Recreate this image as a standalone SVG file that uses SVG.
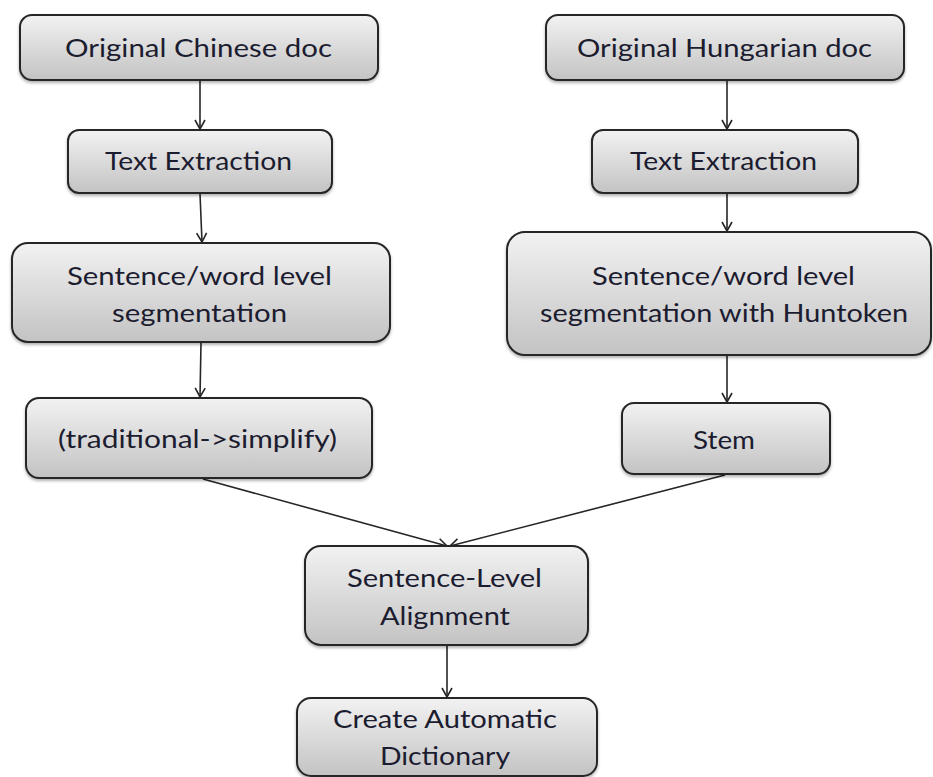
<svg xmlns="http://www.w3.org/2000/svg" width="933" height="777" viewBox="0 0 933 777">
  <style>
    .box { fill: url(#g); stroke: #262626; stroke-width: 2; filter: url(#sh); }
    .t { font-family: Lato, "Liberation Sans", sans-serif; font-size: 25.5px; fill: #1c1c30; text-anchor: middle; }
    .c { stroke: #262626; stroke-width: 1.6; fill: none; marker-end: url(#ah); }
  </style>
  <defs>
    <linearGradient id="g" x1="0" y1="0" x2="0" y2="1">
      <stop offset="0" stop-color="#f2f2f2"/>
      <stop offset="1" stop-color="#c3c3c3"/>
    </linearGradient>
    <filter id="sh" x="-5%" y="-10%" width="110%" height="130%">
      <feDropShadow dx="0" dy="2" stdDeviation="1.5" flood-color="#000" flood-opacity="0.3"/>
    </filter>
    <marker id="ah" viewBox="0 0 12 12" refX="11" refY="6" markerWidth="12" markerHeight="12" markerUnits="userSpaceOnUse" orient="auto">
      <polyline points="2,1 11,6 2,11" fill="none" stroke="#262626" stroke-width="1.6"/>
    </marker>
  </defs>
  <rect width="933" height="777" fill="#ffffff"/>

  <g id="connectors">
    <line class="c" x1="200" y1="81" x2="200" y2="129"/>
    <line class="c" x1="200" y1="194" x2="202" y2="242"/>
    <line class="c" x1="201" y1="343" x2="200" y2="397"/>
    <line class="c" x1="727" y1="81" x2="727" y2="129"/>
    <line class="c" x1="727" y1="194" x2="727" y2="231"/>
    <line class="c" x1="727" y1="356" x2="727" y2="402"/>
    <line class="c" x1="203" y1="479" x2="447" y2="546"/>
    <line class="c" x1="725" y1="475" x2="450" y2="546"/>
    <line class="c" x1="447" y1="646" x2="447" y2="697"/>
  </g>

  <g id="n-orig-chinese">
    <rect class="box" x="20" y="15" width="358" height="65" rx="12"/>
    <text class="t" x="198.5" y="57" textLength="267" lengthAdjust="spacingAndGlyphs">Original Chinese doc</text>
  </g>
  <g id="n-text-extraction-zh">
    <rect class="box" x="68" y="130" width="264" height="63" rx="11"/>
    <text class="t" x="198.5" y="170" textLength="187" lengthAdjust="spacingAndGlyphs">Text Extraction</text>
  </g>
  <g id="n-seg-zh">
    <rect class="box" x="12" y="243" width="378" height="99" rx="16"/>
    <text class="t" x="199.5" y="285" textLength="265" lengthAdjust="spacingAndGlyphs">Sentence/word level</text>
    <text class="t" x="199.5" y="322" textLength="175" lengthAdjust="spacingAndGlyphs">segmentation</text>
  </g>
  <g id="n-trad-simp">
    <rect class="box" x="26" y="398" width="346" height="80" rx="13"/>
    <text class="t" x="197.5" y="448" textLength="279" lengthAdjust="spacingAndGlyphs">(traditional-&gt;simplify)</text>
  </g>

  <g id="n-orig-hungarian">
    <rect class="box" x="546" y="15" width="358" height="65" rx="12"/>
    <text class="t" x="724.5" y="57" textLength="295" lengthAdjust="spacingAndGlyphs">Original Hungarian doc</text>
  </g>
  <g id="n-text-extraction-hu">
    <rect class="box" x="592" y="130" width="266" height="63" rx="11"/>
    <text class="t" x="723.5" y="170" textLength="187" lengthAdjust="spacingAndGlyphs">Text Extraction</text>
  </g>
  <g id="n-seg-hu">
    <rect class="box" x="507" y="232" width="424" height="123" rx="18"/>
    <text class="t" x="723.5" y="285" textLength="263" lengthAdjust="spacingAndGlyphs">Sentence/word level</text>
    <text class="t" x="724" y="322" textLength="368" lengthAdjust="spacingAndGlyphs">segmentation with Huntoken</text>
  </g>
  <g id="n-stem">
    <rect class="box" x="622" y="403" width="208" height="71" rx="12"/>
    <text class="t" x="724" y="449" textLength="62" lengthAdjust="spacingAndGlyphs">Stem</text>
  </g>

  <g id="n-alignment">
    <rect class="box" x="305" y="546" width="283" height="99" rx="16"/>
    <text class="t" x="444.5" y="587" textLength="195" lengthAdjust="spacingAndGlyphs">Sentence-Level</text>
    <text class="t" x="445" y="625" textLength="130" lengthAdjust="spacingAndGlyphs">Alignment</text>
  </g>
  <g id="n-dictionary">
    <rect class="box" x="297" y="698" width="300" height="78" rx="14"/>
    <text class="t" x="445" y="728" textLength="224" lengthAdjust="spacingAndGlyphs">Create Automatic</text>
    <text class="t" x="445" y="765" textLength="130" lengthAdjust="spacingAndGlyphs">Dictionary</text>
  </g>
</svg>
